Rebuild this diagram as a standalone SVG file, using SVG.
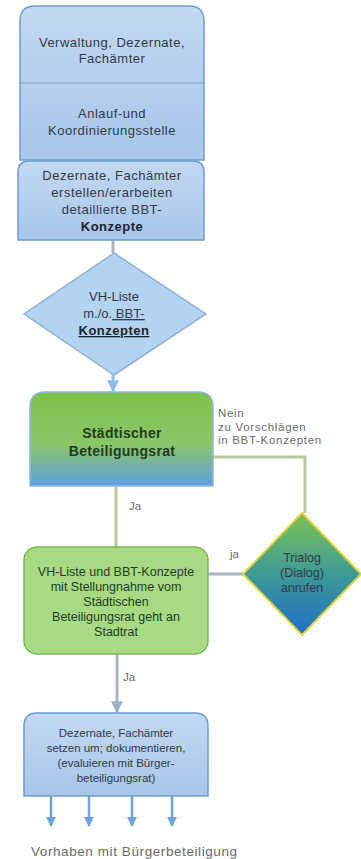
<svg xmlns="http://www.w3.org/2000/svg" width="361" height="859" viewBox="0 0 361 859">
<style>
.t{font-family:"Liberation Sans",Arial,sans-serif;font-size:12.5px;fill:#2f3a4a;text-anchor:middle}
.w{letter-spacing:0.5px}
.s13{font-size:13px}
.s14{font-size:14px}
.s115{font-size:11.5px}
.b{font-weight:bold;fill:#1a2330}
.g{fill:#1f3d1a}
.lbl{font-family:"Liberation Sans",Arial,sans-serif;font-size:11.5px;fill:#6a6a6a}
.ln{fill:none;stroke:#b9c99c;stroke-width:3}
.lg{fill:none;stroke:#a9b4c0;stroke-width:3}
.la{fill:none;stroke:#6fa3dc;stroke-width:2.5}
.bx{stroke:#6f9bd1;stroke-width:1.5}
</style>
<defs>
<linearGradient id="blue" x1="0" y1="0" x2="0" y2="1"><stop offset="0" stop-color="#c3d8f1"/><stop offset="1" stop-color="#a7c6ea"/></linearGradient>
<linearGradient id="gb" x1="0" y1="0" x2="0" y2="1"><stop offset="0" stop-color="#7cc24a"/><stop offset="0.55" stop-color="#8cc66a"/><stop offset="1" stop-color="#5e9fe0"/></linearGradient>
<linearGradient id="tri" x1="0" y1="0" x2="0" y2="1"><stop offset="0" stop-color="#7ec255"/><stop offset="0.5" stop-color="#3e9a95"/><stop offset="1" stop-color="#1f6fc9"/></linearGradient>
<marker id="ab" viewBox="0 0 10 10" refX="9" refY="5" markerWidth="4" markerHeight="4" orient="auto"><path d="M0,0L10,5L0,10z" fill="#6fa3dc"/></marker>
<marker id="ag" viewBox="0 0 10 10" refX="9" refY="5" markerWidth="4" markerHeight="4" orient="auto"><path d="M0,0L10,5L0,10z" fill="#9fb0c2"/></marker>
<marker id="al" viewBox="0 0 10 10" refX="9" refY="5" markerWidth="4" markerHeight="4" orient="auto"><path d="M0,0L10,5L0,10z" fill="#8fbfe9"/></marker>
</defs>

<g id="connectors">
<path class="lg" d="M113,240V253"/>
<path d="M113,374V391" fill="none" stroke="#8fbfe9" stroke-width="3" marker-end="url(#al)"/>
<path class="ln" d="M213,457H305V513"/>
<path class="ln" d="M116,486V547"/>
<path class="lg" d="M208,574H243"/>
<path class="lg" d="M117,654V712" marker-end="url(#ag)"/>
<path class="la" d="M51,796V826" marker-end="url(#ab)"/>
<path class="la" d="M89,796V826" marker-end="url(#ab)"/>
<path class="la" d="M132,796V826" marker-end="url(#ab)"/>
<path class="la" d="M172,796V826" marker-end="url(#ab)"/>
<text class="lbl" x="218" y="417" letter-spacing="0.7">Nein</text>
<text class="lbl" x="218" y="430.5" letter-spacing="0.7">zu Vorschlägen</text>
<text class="lbl" x="218" y="444" letter-spacing="0.7">in BBT-Konzepten</text>
<text class="lbl" x="129" y="510">Ja</text>
<text class="lbl" x="230" y="558">ja</text>
<text class="lbl" x="123" y="681">Ja</text>
</g>

<g id="n1">
<path class="bx" fill="url(#blue)" d="M20,160V21Q20,6 35,6H189Q204,6 204,21V160Z"/>
<line x1="20" y1="83" x2="204" y2="83" stroke="#7fa3cf" stroke-width="1.2"/>
<text class="t w s13" x="112" y="47">Verwaltung, Dezernate,</text>
<text class="t w s13" x="112" y="63">Fachämter</text>
<text class="t w s13" x="112" y="118">Anlauf-und</text>
<text class="t w s13" x="112" y="135">Koordinierungsstelle</text>
</g>

<g id="n2">
<path class="bx" fill="url(#blue)" d="M18,240V172Q18,161 29,161H193Q204,161 204,172V240Z"/>
<text class="t w s13" x="112" y="180">Dezernate, Fachämter</text>
<text class="t w s13" x="112" y="197">erstellen/erarbeiten</text>
<text class="t w s13" x="112" y="214">detaillierte BBT-</text>
<text class="t b w s13" x="112" y="231">Konzepte</text>
</g>

<g id="n3">
<path d="M114,253L206,314L114,375L24,314Z" fill="#b4d3f1" stroke="#8fb3d6" stroke-width="1.5"/>
<text class="t s13" x="114" y="301">VH-Liste</text>
<text class="t s13" x="114" y="318">m./o.<tspan text-decoration="underline"> BBT-</tspan></text>
<text class="t b w s13" x="114" y="335" text-decoration="underline">Konzepten</text>
</g>

<g id="n4">
<path fill="url(#gb)" stroke="#8fb8e0" stroke-width="1.5" d="M30,486V407Q30,392 45,392H198Q213,392 213,407V486Z"/>
<text class="t b g s14" x="122" y="438" letter-spacing="0.3">Städtischer</text>
<text class="t b g s14" x="122" y="456" letter-spacing="0.3">Beteiligungsrat</text>
</g>

<g id="n5">
<rect x="24" y="547" width="184" height="107" rx="13" fill="#a8da85" stroke="#7cb85a" stroke-width="1.5"/>
<text class="t g" x="116" y="576">VH-Liste und BBT-Konzepte</text>
<text class="t g" x="116" y="591">mit Stellungnahme vom</text>
<text class="t g" x="116" y="606">Städtischen</text>
<text class="t g" x="116" y="621">Beteiligungsrat geht an</text>
<text class="t g" x="116" y="636">Stadtrat</text>
</g>

<g id="n6">
<path d="M302,513L361,574L302,635L243,574Z" fill="url(#tri)" stroke="#e3d23a" stroke-width="2"/>
<text class="t" x="302" y="562" fill="#1f3350">Trialog</text>
<text class="t" x="302" y="577" fill="#1f3350">(Dialog)</text>
<text class="t" x="302" y="592" fill="#1f3350">anrufen</text>
</g>

<g id="n7">
<path class="bx" fill="url(#blue)" d="M24,796V726Q24,713 37,713H195Q208,713 208,726V796Z"/>
<text class="t s115" x="116" y="737">Dezernate, Fachämter</text>
<text class="t s115" x="116" y="752">setzen um; dokumentieren,</text>
<text class="t s115" x="116" y="767">(evaluieren mit Bürger-</text>
<text class="t s115" x="116" y="782">beteiligungsrat)</text>
</g>

<g id="n8">
<text class="lbl" x="134" y="856" text-anchor="middle" style="font-size:13.5px" textLength="206" lengthAdjust="spacing">Vorhaben mit Bürgerbeteiligung</text>
</g>
</svg>
